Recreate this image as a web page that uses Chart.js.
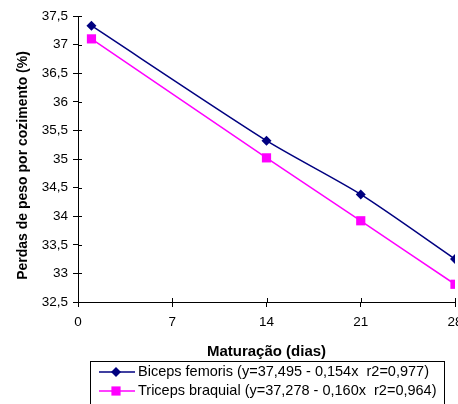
<!DOCTYPE html>
<html>
<head>
<meta charset="utf-8">
<script src="https://cdn.jsdelivr.net/npm/chart.js@4/dist/chart.umd.min.js"></script>
<style>
    html, body { margin: 0; padding: 0; background: #fff; overflow: hidden; }
    #wrap { position: relative; width: 458px; height: 404px; overflow: hidden; }
    #chart { position: absolute; left: 0; top: 0; }
</style>
</head>
<body>
<div id="wrap"><canvas id="chart" width="470" height="404"></canvas></div>
<script>
// Data
const days = [1, 14, 21, 28];
const biceps = [37.33, 35.32, 34.38, 33.25];
const triceps = [37.10, 35.02, 33.92, 32.81];
const xTicks = [0, 7, 14, 21, 28];
const seriesLabels = [
    'Biceps femoris (y=37,495 - 0,154x  r2=0,977)',
    'Triceps braquial (y=37,278 - 0,160x  r2=0,964)'
];
const yTitle = 'Perdas de peso por cozimento (%)';

const FONT = '"Liberation Sans", Arial, sans-serif';
const NAVY = '#000080';
const MAGENTA = '#FF00FF';

function toPoints(ys) {
    return days.map((d, i) => ({ x: d, y: ys[i] }));
}

function comma(v) {
    return String(v).replace('.', ',');
}

// Small inner part of the tick marks (Excel draws them across the axis)
const crossTicks = {
    id: 'crossTicks',
    afterDatasetsDraw(chart) {
        const { ctx, chartArea, scales } = chart;
        ctx.save();
        ctx.strokeStyle = '#000';
        ctx.lineWidth = 1;
        ctx.beginPath();
        scales.y.ticks.forEach(t => {
            const y = Math.round(scales.y.getPixelForValue(t.value)) + 0.5;
            ctx.moveTo(chartArea.left, y);
            ctx.lineTo(chartArea.left + 4, y);
        });
        scales.x.ticks.forEach(t => {
            const x = Math.round(scales.x.getPixelForValue(t.value)) + 0.5;
            ctx.moveTo(x, chartArea.bottom);
            ctx.lineTo(x, chartArea.bottom - 4);
        });
        ctx.stroke();
        ctx.restore();
    }
};

// Rotated y title, sitting a little below the middle like the original
const sideTitle = {
    id: 'sideTitle',
    afterDraw(chart) {
        const ctx = chart.ctx;
        ctx.save();
        ctx.translate(23, 165.5);
        ctx.rotate(-Math.PI / 2);
        ctx.fillStyle = '#000';
        ctx.font = 'bold 14px ' + FONT;
        ctx.textAlign = 'center';
        ctx.textBaseline = 'middle';
        ctx.fillText(yTitle, 0, 0);
        ctx.restore();
    }
};

// Boxed legend under the axis title
const boxLegend = {
    id: 'boxLegend',
    afterDraw(chart) {
        const ctx = chart.ctx;
        const ds = chart.data.datasets;
        ctx.save();
        ctx.strokeStyle = '#000';
        ctx.lineWidth = 1;
        ctx.strokeRect(90.5, 361.5, 354, 50);
        ds.forEach((d, i) => {
            const y = 372 + i * 19;
            ctx.strokeStyle = d.borderColor;
            ctx.lineWidth = 1.5;
            ctx.beginPath();
            ctx.moveTo(99, y);
            ctx.lineTo(135, y);
            ctx.stroke();
            ctx.fillStyle = d.pointBackgroundColor;
            ctx.beginPath();
            if (d.pointStyle === 'rectRot') {
                const r = d.pointRadius;
                ctx.moveTo(116 - r, y);
                ctx.lineTo(116, y - r);
                ctx.lineTo(116 + r, y);
                ctx.lineTo(116, y + r);
                ctx.closePath();
            } else {
                const s = d.pointRadius * Math.SQRT1_2;
                ctx.rect(116 - s, y - s, 2 * s, 2 * s);
            }
            ctx.fill();
            ctx.fillStyle = '#000';
            ctx.font = '14.5px ' + FONT;
            ctx.textBaseline = 'middle';
            ctx.textAlign = 'left';
            ctx.fillText(d.label, 138, y);
        });
        ctx.restore();
    }
};

const ctx = document.getElementById('chart').getContext('2d');
const chart = new Chart(ctx, {
    type: 'line',
    data: {
        datasets: [
            {
                label: seriesLabels[0],
                data: toPoints(biceps),
                borderColor: NAVY,
                backgroundColor: NAVY,
                pointBackgroundColor: NAVY,
                pointBorderColor: NAVY,
                pointStyle: 'rectRot',
                pointRadius: 5,
                pointBorderWidth: 0,
                borderWidth: 1.5,
                tension: 0.25
            },
            {
                label: seriesLabels[1],
                data: toPoints(triceps),
                borderColor: MAGENTA,
                backgroundColor: MAGENTA,
                pointBackgroundColor: MAGENTA,
                pointBorderColor: MAGENTA,
                pointStyle: 'rect',
                pointRadius: 6.5,
                pointBorderWidth: 0,
                borderWidth: 1.5,
                tension: 0.25
            }
        ]
    },
    options: {
        responsive: false,
        animation: false,
        layout: {
            padding: { left: 0, right: 15, top: 16, bottom: 42 }
        },
        plugins: {
            legend: { display: false },
            tooltip: { enabled: false }
        },
        scales: {
            x: {
                type: 'linear',
                min: 0,
                max: 28,
                afterBuildTicks: scale => {
                    scale.ticks = xTicks.map(v => ({ value: v }));
                },
                afterFit: scale => {
                    scale.height = 60;
                },
                border: { color: '#000', width: 1 },
                grid: { drawOnChartArea: false, color: '#000', tickLength: 5 },
                ticks: {
                    color: '#000',
                    padding: 7,
                    maxRotation: 0,
                    font: { family: FONT, size: 13.5 },
                    callback: v => comma(v)
                },
                title: {
                    display: true,
                    text: 'Maturação (dias)',
                    color: '#000',
                    font: { family: FONT, size: 15, weight: 'bold' },
                    padding: { top: 0, bottom: 1 }
                }
            },
            y: {
                min: 32.5,
                max: 37.5,
                ticks: {
                    stepSize: 0.5,
                    color: '#000',
                    padding: 5,
                    font: { family: FONT, size: 13.5 },
                    callback: v => comma(v)
                },
                afterFit: scale => {
                    scale.width = 78;
                    scale.paddingTop = 0;
                    scale.paddingBottom = 0;
                },
                border: { color: '#000', width: 1 },
                grid: { drawOnChartArea: false, color: '#000', tickLength: 5 },
                title: { display: false }
            }
        }
    },
    plugins: [crossTicks, sideTitle, boxLegend]
});
</script>
</body>
</html>
